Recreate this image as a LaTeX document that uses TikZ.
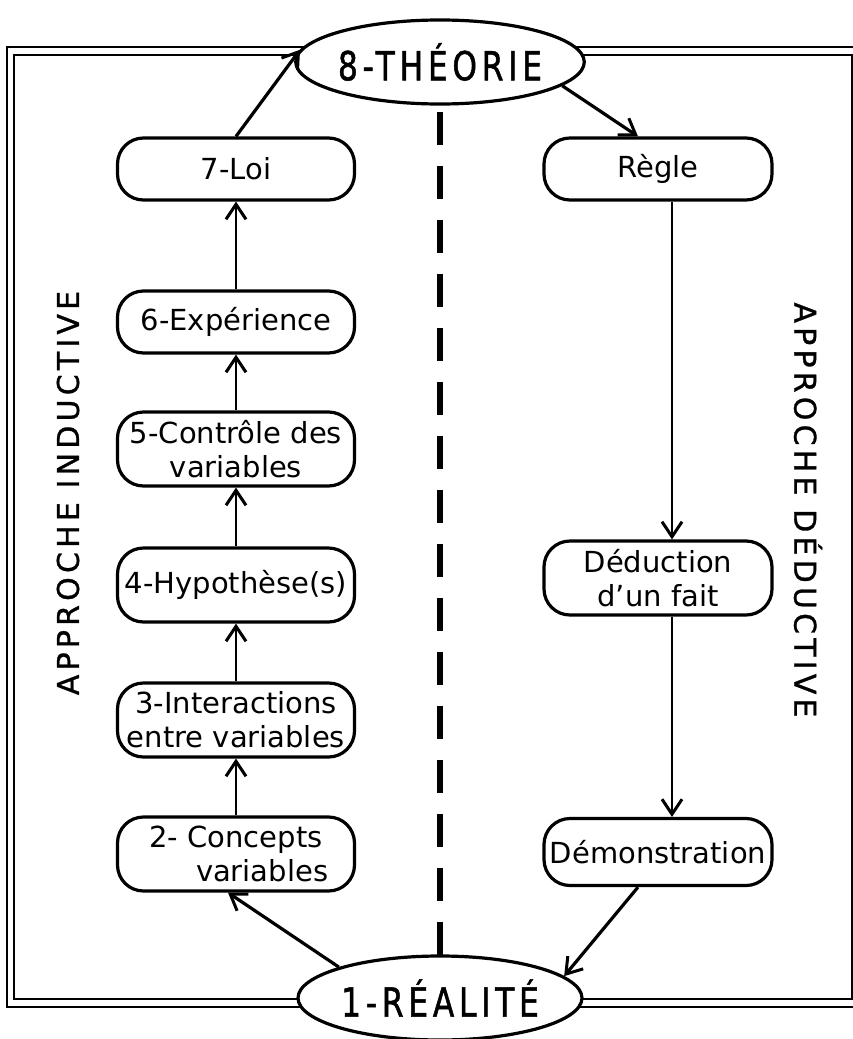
\documentclass[tikz,border=0pt]{standalone}
\usepackage{fontspec}
\setmainfont{DejaVu Sans}
\newfontfamily\titlefont[FakeStretch=0.78,FakeBold=1.2,LetterSpace=12]{DejaVu Sans}
\newfontfamily\labelfont[FakeBold=1,LetterSpace=14]{DejaVu Sans}
\usetikzlibrary{arrows.meta,shapes.geometric}

\begin{document}
\begin{tikzpicture}[x=1pt,y=-1pt,
  line width=3.2pt,
  box/.style={draw, rounded corners=26pt, minimum width=237pt, minimum height=62pt,
    inner xsep=2pt, inner ysep=7pt, align=center, font=\fontsize{29}{34}\selectfont},
  tallbox/.style={box, minimum height=74pt},
  rbox/.style={box, minimum width=228pt},
  oval/.style={draw, ellipse, fill=white, minimum width=284pt, minimum height=84pt,
    inner sep=0pt, font=\titlefont\fontsize{40}{44}\selectfont},
  arr/.style={-{Straight Barb[length=15pt,width=20pt,line width=3pt]}},
  thinarr/.style={arr, line width=2.4pt},
  vlabel/.style={font=\labelfont\fontsize{30}{32}\selectfont},
  frameline/.style={line width=2.8pt},
  divider/.style={line width=6.5pt, dash pattern=on 33pt off 21pt}
]
\useasboundingbox (0,0) rectangle (853,1039);

% double frame
\draw[frameline] (7,47) rectangle (862,1007);
\draw[frameline] (14,55) rectangle (852,999);

% central divider
\coordinate (dtop) at (440,112);
\coordinate (dbot) at (440,956);
\draw[divider] (dtop) -- (dbot);

% end points of the cycle
\node[oval] (theory) at (440,62) {8-THÉORIE};
\node[oval] (reality) at (440,998) {1-RÉALITÉ};

% inductive branch
\node[box] (loi) at (236,169) {7-Loi};
\node[box] (exp) at (236,322) {6-Expérience};
\node[tallbox] (ctrl) at (236,449) {5-Contrôle des\\variables};
\node[tallbox] (hyp) at (236,585) {4-Hypothèse(s)};
\node[tallbox] (inter) at (236,720) {3-Interactions\\entre variables};
\node[tallbox] (conc) at (236,854) {2- Concepts\\\hspace*{1.8em}variables};

% deductive branch
\node[rbox] (regle) at (658,169) {Règle};
\node[rbox, minimum height=74pt] (ded) at (658,578) {Déduction\\d'un fait};
\node[rbox, minimum height=67pt] (demo) at (658,852) {Démonstration};

% side labels
\node[vlabel, rotate=90] (indlabel) at (68,493) {APPROCHE INDUCTIVE};
\node[vlabel, rotate=-90] (dedlabel) at (808,510) {APPROCHE DÉDUCTIVE};

% arrows
\draw[arr] (reality.163) -- ([xshift=-8pt]conc.south);
\draw[thinarr] (conc) -- (inter);
\draw[thinarr] (inter) -- (hyp);
\draw[thinarr] (hyp) -- (ctrl);
\draw[thinarr] (ctrl) -- (exp);
\draw[thinarr] (exp) -- (loi);
\draw[arr] (loi.north) -- (theory.175);
\draw[arr] (theory.-11) -- ([xshift=-20pt]regle.north);
\draw[thinarr] ([xshift=14pt]regle.south) -- ([xshift=14pt]ded.north);
\draw[thinarr] ([xshift=14pt]ded.south) -- ([xshift=14pt]demo.north);
\draw[arr] ([xshift=-20pt]demo.south) -- (reality.10);
\end{tikzpicture}
\end{document}
